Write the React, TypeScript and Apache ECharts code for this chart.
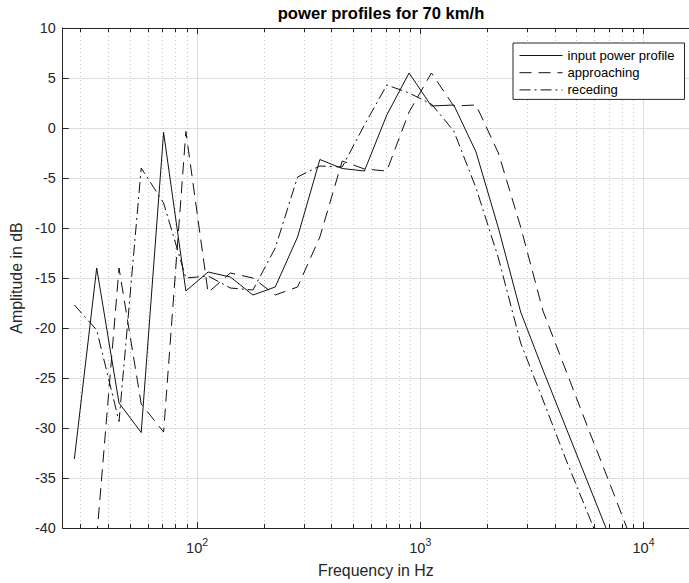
import React, { useEffect, useRef } from "react";
import * as echarts from "echarts";

// third-octave-like analysis bands (Hz)
const bandFreqs = [28.2, 35.5, 44.7, 56.2, 70.8, 89.1, 112, 141, 178, 224, 282, 355, 447, 562, 708, 891, 1122, 1413, 1778, 2239, 2818, 3548, 4467, 5623, 7079, 8913];

const inputFreqs = bandFreqs.slice(0, 25);
const inputPower = [-33.1, -14.0, -27.5, -30.45, -0.45, -16.3, -14.4, -14.9, -16.7, -15.9, -10.9, -3.15, -4.05, -4.3, 1.3, 5.5, 2.2, 2.3, -2.4, -10.0, -18.4, -24.2, -29.8, -35.4, -41.0];

const approachFreqs = bandFreqs.slice(1, 26);
const approaching = [-41.0, -14.0, -27.6, -30.4, -0.35, -16.45, -14.5, -15.0, -16.7, -15.9, -10.9, -3.3, -4.1, -4.3, 1.6, 5.5, 2.2, 2.3, -2.5, -9.9, -18.3, -24.1, -29.9, -35.6, -41.4];

const recedeFreqs = bandFreqs.slice(0, 25);
const receding = [-17.7, -20.2, -29.35, -4.0, -7.5, -15.0, -14.8, -16.0, -16.2, -12.0, -4.9, -3.8, -3.9, 0.3, 4.3, 3.5, 2.4, -0.3, -6.0, -13.0, -21.5, -27.2, -33.0, -38.5, -44.0];

const minorFreqs = [30, 40, 50, 60, 70, 80, 90, 200, 300, 400, 500, 600, 700, 800, 900, 2000, 3000, 4000, 5000, 6000, 7000, 8000, 9000];

const seriesNames = ["input power profile", "approaching", "receding"];
const xMin = 25;
const xMax = 16000;
const yMin = -40;
const yMax = 10;
const yStep = 5;

const FONT = "'Liberation Sans', Helvetica, Arial, sans-serif";
const AXIS_COLOR = "#262626";

function pairs(xs: number[], ys: number[]) {
  return xs.map((x, i) => [x, ys[i]]);
}

export default function App() {
  const ref = useRef<HTMLDivElement>(null);

  useEffect(() => {
    document.body.style.margin = "0";
    if (!ref.current) return;
    const chart = echarts.init(ref.current, null, { renderer: "svg" });

    const labelFormatter = (v: number) => {
      const e = Math.log10(v);
      if (Math.abs(e - Math.round(e)) < 1e-6) return `{a|10}{b|${Math.round(e)}}`;
      return "";
    };

    const lineBase = { color: "#111", width: 1 };

    const option: any = {
      animation: false,
      backgroundColor: "#fff",
      graphic: [
        {
          type: "text",
          x: 381,
          y: 13,
          style: {
            text: "power profiles for 70 km/h",
            fontFamily: FONT,
            fontSize: 16.6,
            fontWeight: "bold",
            fill: "#000",
            align: "center",
            verticalAlign: "middle",
            textAlign: "center",
            textVerticalAlign: "middle",
          },
        },
      ],
      grid: { left: 62, top: 28, width: 637, height: 502, containLabel: false },
      legend: {
        data: seriesNames,
        orient: "vertical",
        left: 513,
        top: 43,
        padding: [6, 10, 3, 6],
        itemWidth: 43,
        itemHeight: 12,
        itemGap: 4.2,
        backgroundColor: "#fff",
        borderColor: AXIS_COLOR,
        borderWidth: 1,
        itemStyle: { opacity: 0, borderWidth: 0 },
        lineStyle: { width: 1 },
        textStyle: { fontFamily: FONT, fontSize: 13.1, color: "#000" },
      },
      xAxis: [
        {
          type: "log",
          logBase: 10,
          min: xMin,
          max: xMax,
          position: "bottom",
          name: "Frequency in Hz",
          nameLocation: "middle",
          nameGap: 34,
          nameTextStyle: { fontFamily: FONT, fontSize: 15.9, color: AXIS_COLOR },
          axisLine: { show: true, onZero: false, lineStyle: { color: AXIS_COLOR, width: 1 } },
          axisTick: { show: true, inside: true, length: 6, lineStyle: { color: AXIS_COLOR } },
          splitLine: { show: true, lineStyle: { color: "#dedede", width: 1 } },
          axisLabel: {
            formatter: labelFormatter,
            margin: 8,
            showMinLabel: false,
            showMaxLabel: false,
            rich: {
              a: { fontFamily: FONT, fontSize: 14.6, color: AXIS_COLOR, lineHeight: 24 },
              b: { fontFamily: FONT, fontSize: 10.5, color: AXIS_COLOR, lineHeight: 10, verticalAlign: "top" },
            },
          },
        },
        {
          type: "log",
          logBase: 10,
          min: xMin,
          max: xMax,
          position: "top",
          axisLine: { show: true, onZero: false, lineStyle: { color: AXIS_COLOR, width: 1 } },
          axisTick: { show: true, inside: true, length: 6, lineStyle: { color: AXIS_COLOR } },
          splitLine: { show: false },
          axisLabel: { show: false },
        },
      ],
      yAxis: {
        type: "value",
        min: yMin,
        max: yMax,
        interval: yStep,
        name: "Amplitude in dB",
        nameLocation: "middle",
        nameGap: 32,
        nameTextStyle: { fontFamily: FONT, fontSize: 15.9, color: AXIS_COLOR },
        axisLine: { show: true, onZero: false, lineStyle: { color: AXIS_COLOR, width: 1 } },
        axisTick: { show: true, inside: true, length: 6, lineStyle: { color: AXIS_COLOR } },
        splitLine: { show: true, lineStyle: { color: "#dedede", width: 1 } },
        axisLabel: { fontFamily: FONT, fontSize: 14.4, color: AXIS_COLOR, margin: 7 },
      },
      series: [
        {
          type: "custom",
          name: "minor",
          xAxisIndex: 0,
          yAxisIndex: 0,
          z: 1,
          silent: true,
          clip: false,
          data: minorFreqs.map((f) => [f, yMin]),
          renderItem: (params: any, api: any) => {
            const pt = api.coord([api.value(0), yMin]);
            const cs = params.coordSys;
            const x = Math.round(pt[0]) + 0.5;
            const top = cs.y;
            const bottom = cs.y + cs.height;
            return {
              type: "group",
              children: [
                {
                  type: "line",
                  shape: { x1: x, y1: top, x2: x, y2: bottom },
                  style: { stroke: "#c2c2c2", lineWidth: 1, lineDash: [1, 3] },
                },
                {
                  type: "line",
                  shape: { x1: x, y1: bottom, x2: x, y2: bottom - 4 },
                  style: { stroke: AXIS_COLOR, lineWidth: 1 },
                },
                {
                  type: "line",
                  shape: { x1: x, y1: top, x2: x, y2: top + 4 },
                  style: { stroke: AXIS_COLOR, lineWidth: 1 },
                },
              ],
            };
          },
        },
        {
          type: "line",
          name: seriesNames[0],
          data: pairs(inputFreqs, inputPower),
          symbol: "none",
          showSymbol: false,
          z: 3,
          lineStyle: { ...lineBase, type: "solid" },
          itemStyle: { color: "#111" },
        },
        {
          type: "line",
          name: seriesNames[1],
          data: pairs(approachFreqs, approaching),
          symbol: "none",
          showSymbol: false,
          z: 3,
          lineStyle: { ...lineBase, type: [12, 7] },
          itemStyle: { color: "#111" },
        },
        {
          type: "line",
          name: seriesNames[2],
          data: pairs(recedeFreqs, receding),
          symbol: "none",
          showSymbol: false,
          z: 3,
          lineStyle: { ...lineBase, type: [11, 4, 2, 4] },
          itemStyle: { color: "#111" },
        },
      ],
    };

    chart.setOption(option);
    return () => chart.dispose();
  }, []);

  return <div ref={ref} style={{ width: 689, height: 583 }} />;
}
